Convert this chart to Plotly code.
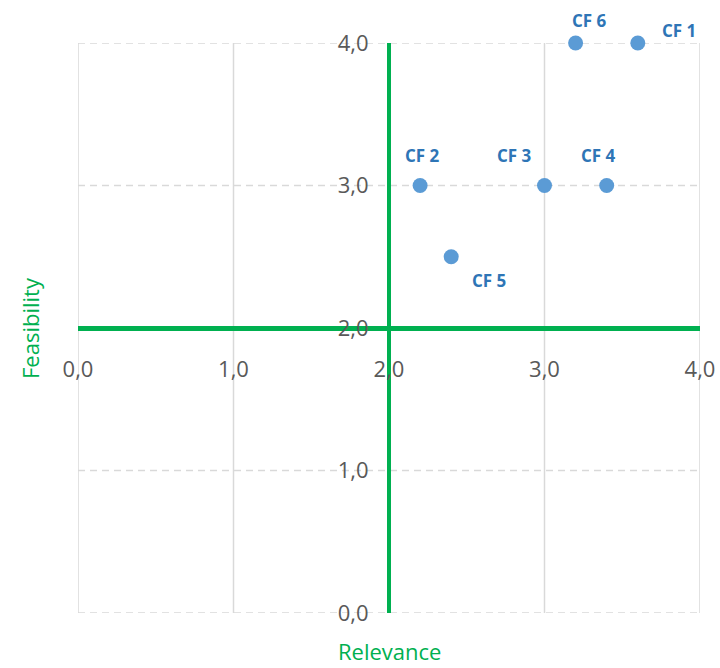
import plotly.graph_objects as go

# Critical factors scored on relevance (x) and feasibility (y)
factors = ["CF 1", "CF 2", "CF 3", "CF 4", "CF 5", "CF 6"]
relevance = [3.6, 2.2, 3.0, 3.4, 2.4, 3.2]
feasibility = [4.0, 3.0, 3.0, 3.0, 2.5, 4.0]

tick_vals = [0, 1, 2, 3, 4]
tick_text = ["0,0", "1,0", "2,0", "3,0", "4,0"]

# label offsets in pixels (dx, dy) per factor
label_shift = {
    "CF 1": (41, 13),
    "CF 2": (2, 30),
    "CF 3": (-30, 30),
    "CF 4": (-8, 30),
    "CF 5": (38, -24),
    "CF 6": (14, 23),
}

GREEN = "#00B050"
GRID = "#D9D9D9"
TICK = "#595959"
FONT = "Open Sans"
DASH = "7px,5px"

fig = go.Figure()

# gridlines: solid verticals, dashed horizontals, including the range edges
lo, hi = tick_vals[0], tick_vals[-1]
for v in tick_vals:
    fig.add_shape(type="line", xref="x", yref="y", x0=v, x1=v, y0=lo, y1=hi,
                  line=dict(color=GRID, width=1.5), layer="below")
    fig.add_shape(type="line", xref="x", yref="y", x0=lo, x1=hi, y0=v, y1=v,
                  line=dict(color=GRID, width=1.5, dash=DASH), layer="below")

fig.add_trace(go.Scatter(
    x=relevance, y=feasibility, mode="markers",
    marker=dict(size=15, color="#5B9BD5"),
    hoverinfo="text", text=factors, showlegend=False, cliponaxis=False,
))

for name, xv, yv in zip(factors, relevance, feasibility):
    dx, dy = label_shift[name]
    fig.add_annotation(
        x=xv, y=yv, xref="x", yref="y", text=f"<b>{name}</b>",
        showarrow=False, xshift=dx, yshift=dy,
        font=dict(family=FONT, size=17, color="#2E75B6"),
    )

fig.add_annotation(x=0.5, y=0, xref="paper", yref="paper", yanchor="bottom",
                   yshift=-54, borderpad=0, text="Relevance", showarrow=False,
                   font=dict(family=FONT, size=22, color=GREEN))
fig.add_annotation(x=0, y=0.5, xref="paper", yref="paper", xanchor="center",
                   xshift=-48, text="Feasibility", showarrow=False, textangle=-90,
                   font=dict(family=FONT, size=22, color=GREEN))

fig.update_layout(
    width=720, height=668,
    margin=dict(l=78, r=20, t=43, b=55),
    plot_bgcolor="white", paper_bgcolor="white",
    xaxis=dict(
        range=[lo, hi], tickvals=tick_vals, ticktext=tick_text,
        showgrid=False, automargin=False,
        zeroline=False, showline=True, linecolor=GREEN, linewidth=5,
        anchor="free", position=0.5, ticks="", ticklabelstandoff=20,
        tickfont=dict(family=FONT, size=22, color=TICK),
    ),
    yaxis=dict(
        range=[lo, hi], tickvals=tick_vals, ticktext=tick_text,
        showgrid=False, automargin=False,
        zeroline=False, showline=True, linecolor=GREEN, linewidth=4,
        anchor="free", position=0.5, ticks="", ticklabelstandoff=14,
        tickfont=dict(family=FONT, size=22, color=TICK),
    ),
)

fig.write_html("out.html")
